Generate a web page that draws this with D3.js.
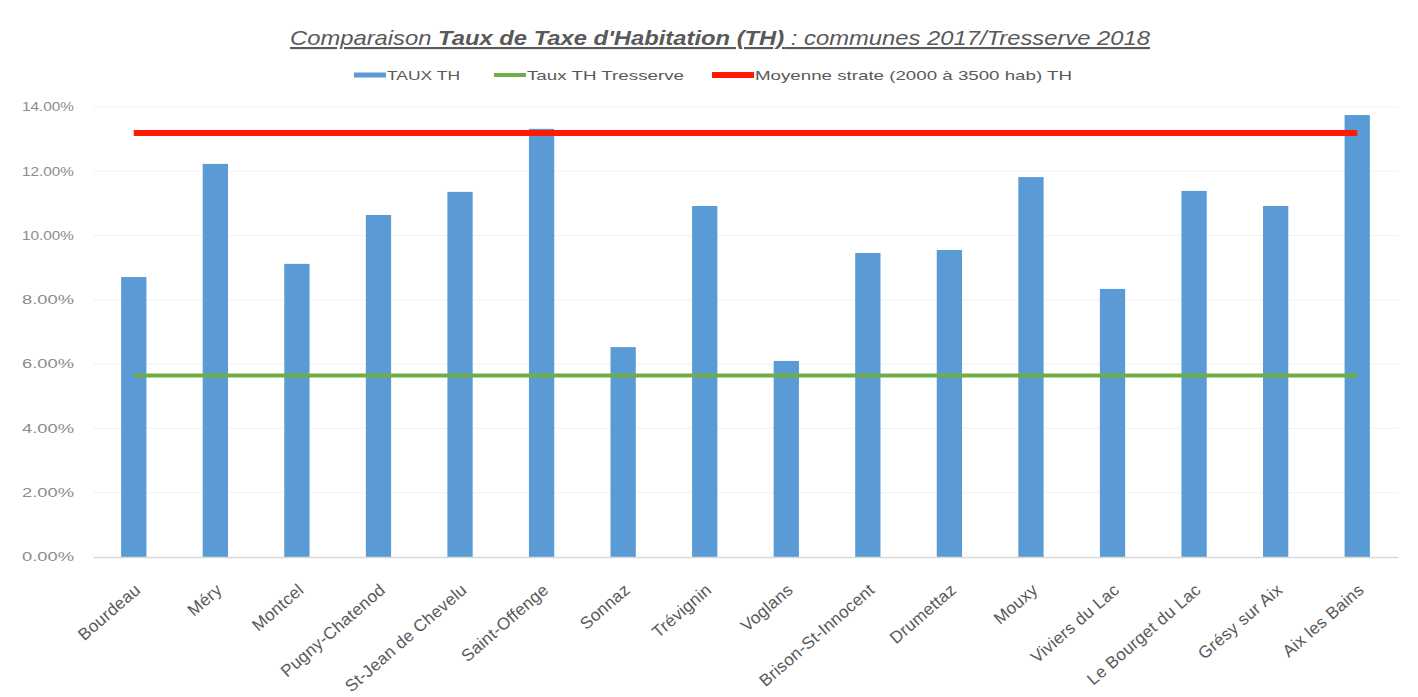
<!DOCTYPE html>
<html>
<head>
<meta charset="utf-8">
<script src="https://cdn.jsdelivr.net/npm/d3@7"></script>
<style>
  html, body { margin: 0; padding: 0; background: #ffffff; }
  svg { display: block; font-family: "Liberation Sans", "DejaVu Sans", sans-serif; }
</style>
</head>
<body>
<svg id="chart" width="1418" height="697"></svg>
<script>
const categories = ["Bourdeau", "Méry", "Montcel", "Pugny-Chatenod", "St-Jean de Chevelu", "Saint-Offenge",
  "Sonnaz", "Trévignin", "Voglans", "Brison-St-Innocent", "Drumettaz", "Mouxy",
  "Viviers du Lac", "Le Bourget du Lac", "Grésy sur Aix", "Aix les Bains"];
const tauxTH = [8.71, 12.23, 9.12, 10.64, 11.36, 13.32, 6.53, 10.92, 6.10, 9.46, 9.55, 11.82, 8.34, 11.39, 10.92, 13.75];
const tauxTresserve = categories.map(() => 5.65);
const moyenneStrate = categories.map(() => 13.19);
const yTicks = [0, 2, 4, 6, 8, 10, 12, 14];
const seriesNames = ["TAUX TH", "Taux TH Tresserve", "Moyenne strate (2000 à 3500 hab) TH"];

const svg = d3.select("#chart");
const x = d3.scaleBand().domain(categories).range([93, 1398]).paddingInner(0.69).paddingOuter(0.345);
const y = d3.scaleLinear().domain([0, 14]).range([557, 107]);

const textColor = "#595959";

// gridlines
svg.append("g").selectAll("line").data(yTicks.slice(1)).join("line")
  .attr("x1", 93).attr("x2", 1398)
  .attr("y1", d => y(d)).attr("y2", d => y(d))
  .attr("stroke", "#f2f2f2").attr("stroke-width", 1);

// y axis
const yAxis = svg.append("g").attr("transform", "translate(77,0)")
  .call(d3.axisLeft(y).tickValues(yTicks).tickFormat(d => d3.format(".2f")(d) + "%").tickSize(0));
yAxis.select(".domain").remove();
yAxis.selectAll("text").attr("fill", "#8c8c8c").attr("font-size", 12)
  .attr("textLength", 52).attr("lengthAdjust", "spacingAndGlyphs");

// bars
svg.append("g").selectAll("rect").data(tauxTH).join("rect")
  .attr("x", (d, i) => x(categories[i]))
  .attr("width", x.bandwidth())
  .attr("y", d => y(d))
  .attr("height", d => y(0) - y(d))
  .attr("fill", "#5b9bd5");

// x axis
const xAxis = svg.append("g").attr("transform", `translate(0,${y(0)})`)
  .call(d3.axisBottom(x).tickSize(0));
xAxis.select(".domain").attr("stroke", "#d9d9d9").attr("stroke-width", 1.5);
xAxis.selectAll("text")
  .attr("fill", textColor).attr("font-size", 17)
  .attr("letter-spacing", 0.3)
  .attr("text-anchor", "end")
  .attr("transform", "translate(4,30) rotate(-41)")
  .attr("dy", "0.35em").attr("y", 0).attr("x", 0);

// lines
const line = d3.line().x((d, i) => x(categories[i]) + x.bandwidth() / 2).y(d => y(d));
svg.append("path").datum(tauxTresserve).attr("d", line)
  .attr("fill", "none").attr("stroke", "#70ad47").attr("stroke-width", 4);
svg.append("path").datum(moyenneStrate).attr("d", line)
  .attr("fill", "none").attr("stroke", "#ff1a00").attr("stroke-width", 6);

// title
const title = svg.append("text").attr("x", 720).attr("y", 45).attr("text-anchor", "middle")
  .attr("font-size", 21).attr("font-style", "italic").attr("fill", textColor)
  .attr("text-decoration", "underline")
  .attr("textLength", 860).attr("lengthAdjust", "spacingAndGlyphs");
title.append("tspan").text("Comparaison ");
title.append("tspan").attr("font-weight", "bold").text("Taux de Taxe d'Habitation (TH)");
title.append("tspan").text(" : communes 2017/Tresserve 2018");

// legend
const legendItems = [
  { name: seriesNames[0], color: "#5b9bd5", x: 354, w: 32, sw: 5, tl: 73 },
  { name: seriesNames[1], color: "#70ad47", x: 494, w: 32, sw: 4, tl: 157 },
  { name: seriesNames[2], color: "#ff1a00", x: 712, w: 42, sw: 6, tl: 317 }
];
const lg = svg.append("g");
legendItems.forEach(it => {
  lg.append("line").attr("x1", it.x).attr("x2", it.x + it.w).attr("y1", 75).attr("y2", 75)
    .attr("stroke", it.color).attr("stroke-width", it.sw);
  lg.append("text").attr("x", it.x + it.w + 1).attr("y", 75).attr("dy", "0.35em")
    .attr("font-size", 13.5).attr("fill", textColor)
    .attr("textLength", it.tl).attr("lengthAdjust", "spacingAndGlyphs").text(it.name);
});
</script>
</body>
</html>
